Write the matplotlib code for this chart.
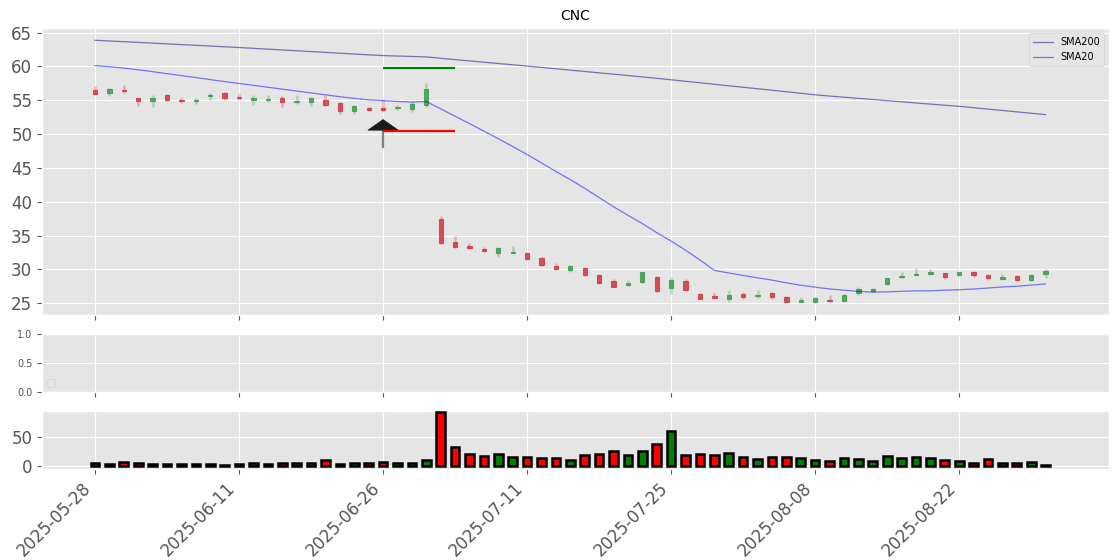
import numpy as np
import pandas as pd
import matplotlib
matplotlib.use("Agg")
import matplotlib.pyplot as plt

ticker = "CNC"
dates = pd.bdate_range("2025-05-28", "2025-09-02", freq="C",
                       holidays=["2025-06-19", "2025-07-04", "2025-09-01"])

opens = [56.53, 56.00, 56.55, 55.26, 54.86, 55.75, 55.10, 54.95, 55.60, 56.14,
         55.55, 55.00, 55.10, 55.26, 54.75, 54.67, 55.10, 54.60, 53.34, 53.87,
         53.87, 53.87, 53.78, 54.37, 37.44, 34.09, 33.50, 33.06, 32.38, 32.43,
         32.38, 31.64, 30.55, 29.87, 30.25, 29.22, 28.25, 27.70, 28.14, 28.84,
         27.30, 28.34, 26.42, 26.12, 25.60, 26.35, 26.08, 26.47, 25.89, 25.24,
         25.24, 25.53, 25.38, 26.57, 26.86, 27.80, 28.88, 29.18, 29.32, 29.43,
         29.18, 29.58, 29.13, 28.59, 29.07, 28.39, 29.28]
highs = [57.07, 56.88, 57.30, 55.40, 55.75, 55.90, 55.40, 55.40, 56.10, 56.20,
         56.00, 55.75, 55.75, 55.60, 55.75, 55.50, 55.75, 54.76, 54.37, 54.00,
         55.20, 54.37, 54.76, 57.56, 37.93, 34.98, 33.95, 33.35, 33.35, 33.50,
         32.60, 31.80, 31.00, 30.65, 30.40, 29.33, 28.59, 28.44, 29.66, 29.03,
         28.93, 28.54, 26.47, 26.57, 26.96, 26.71, 26.90, 26.71, 26.08, 25.89,
         25.97, 26.22, 26.37, 27.36, 27.30, 28.78, 29.66, 30.25, 30.02, 29.52,
         29.66, 29.72, 29.28, 29.33, 29.18, 29.28, 30.02]
lows = [55.75, 55.70, 56.10, 54.17, 54.00, 54.90, 54.60, 54.50, 55.00, 55.00,
        55.10, 54.27, 54.76, 53.93, 54.40, 54.10, 54.20, 52.94, 53.04, 53.34,
        53.30, 53.53, 53.19, 54.00, 33.75, 33.20, 33.00, 32.53, 31.80, 32.38,
        31.40, 30.55, 29.90, 29.58, 29.03, 27.90, 27.36, 27.55, 28.04, 26.70,
        26.37, 26.86, 25.59, 25.63, 25.20, 25.60, 25.80, 25.63, 25.15, 25.15,
        25.09, 25.19, 25.30, 26.22, 26.71, 27.70, 28.78, 29.07, 29.18, 28.54,
        29.07, 28.93, 28.44, 28.48, 28.29, 28.29, 28.69]
closes = [55.89, 56.59, 56.35, 54.86, 55.40, 55.00, 54.86, 55.05, 55.80, 55.40,
          55.30, 55.40, 55.20, 54.67, 54.85, 55.26, 54.37, 53.43, 54.12, 53.49,
          53.49, 54.00, 54.40, 56.63, 33.86, 33.27, 33.10, 32.72, 33.20, 32.57,
          31.49, 30.60, 30.02, 30.55, 29.13, 27.95, 27.45, 28.04, 29.58, 26.80,
          28.44, 26.96, 25.63, 25.83, 26.18, 25.88, 26.25, 25.89, 25.24, 25.45,
          25.74, 25.30, 26.22, 27.15, 27.10, 28.69, 29.07, 29.37, 29.58, 28.84,
          29.58, 29.13, 28.69, 28.93, 28.39, 29.13, 29.77]
volume = [5.2, 3.4, 6.9, 5.2, 3.4, 3.4, 3.4, 3.4, 3.4, 1.8,
          3.4, 5.2, 3.4, 5.2, 5.2, 5.2, 10.3, 3.4, 5.2, 5.2,
          6.9, 5.2, 5.2, 10.3, 93.0, 32.5, 22.0, 17.0, 22.0, 15.3,
          15.3, 13.6, 13.6, 11.7, 18.8, 21.7, 26.9, 18.8, 25.7, 39.0,
          61.4, 20.0, 21.7, 18.8, 23.4, 16.6, 13.1, 16.6, 16.6, 14.8,
          11.4, 9.7, 14.8, 13.1, 9.7, 18.3, 14.8, 16.6, 14.8, 11.4,
          9.7, 6.2, 13.1, 6.2, 6.2, 7.9, 2.5]
sma200 = [63.86, 63.76, 63.65, 63.55, 63.44, 63.33, 63.22, 63.12, 63.01, 62.90,
          62.79, 62.67, 62.55, 62.43, 62.31, 62.19, 62.07, 61.95, 61.83, 61.71,
          61.60, 61.53, 61.47, 61.40, 61.20, 61.00, 60.81, 60.62, 60.43, 60.24,
          60.05, 59.85, 59.65, 59.45, 59.25, 59.05, 58.85, 58.65, 58.45, 58.24,
          58.02, 57.80, 57.58, 57.36, 57.14, 56.92, 56.70, 56.48, 56.26, 56.03,
          55.80, 55.62, 55.45, 55.28, 55.11, 54.94, 54.77, 54.60, 54.43, 54.26,
          54.10, 53.90, 53.69, 53.49, 53.28, 53.08, 52.87]
sma20 = [60.12, 59.95, 59.75, 59.50, 59.22, 58.93, 58.64, 58.35, 58.05, 57.76,
         57.48, 57.20, 56.92, 56.64, 56.36, 56.08, 55.80, 55.52, 55.28, 55.06,
         54.94, 54.82, 54.72, 54.81, 53.73, 52.64, 51.55, 50.44, 49.31, 48.17,
         46.98, 45.74, 44.48, 43.27, 41.99, 40.62, 39.27, 38.00, 36.78, 35.44,
         34.19, 32.84, 31.40, 29.86, 29.48, 29.11, 28.76, 28.42, 28.02, 27.67,
         27.38, 27.12, 26.93, 26.76, 26.65, 26.69, 26.77, 26.84, 26.84, 26.94,
         27.00, 27.11, 27.26, 27.41, 27.52, 27.69, 27.86]

signal_idx = 20
arrow_tip = 52.2
arrow_head_base = 50.55
arrow_tail = 47.97
take_profit = 59.73
stop_loss = 50.40
level_end_idx = 25
tick_step = 10

plt.style.use("ggplot")
fig = plt.figure(figsize=(11.2, 5.6), dpi=100)
W, H = 1120.0, 560.0
left, right = 42 / W, 1109 / W
ax1 = fig.add_axes([left, 1 - 315 / H, right - left, (315 - 28.3) / H])
ax2 = fig.add_axes([left, 1 - 391.5 / H, right - left, (391.5 - 334) / H], sharex=ax1)
ax3 = fig.add_axes([left, 1 - 469 / H, right - left, (469 - 411) / H], sharex=ax1)

x = np.arange(len(closes))
o = np.array(opens); c = np.array(closes)
h = np.array(highs); l = np.array(lows)
up = c >= o
cols = np.where(up, "#3a9a48", "#d0343c")

# candles
ax1.vlines(x, l, h, colors=cols, linewidth=1.8, alpha=0.3, zorder=2)
ax1.bar(x, np.abs(c - o), bottom=np.minimum(o, c), width=0.3, color=cols,
        edgecolor=cols, linewidth=0.8, alpha=0.8, zorder=3)

ax1.plot(x, sma200, color="navy", alpha=0.5, linewidth=0.9, label="SMA200", zorder=4)
ax1.plot(x, sma20, color="blue", alpha=0.5, linewidth=0.9, label="SMA20", zorder=4)

# buy signal arrow: gray shaft + dark head
ax1.vlines(signal_idx, arrow_tail, arrow_head_base, colors="gray", linewidth=1.6, zorder=5)
ax1.annotate("", xy=(signal_idx, arrow_tip), xytext=(signal_idx, arrow_head_base),
             arrowprops=dict(arrowstyle="-|>,head_width=1.08,head_length=0.75",
                             mutation_scale=10, fc="#1a1a1a", ec="#1a1a1a", lw=0.6,
                             shrinkA=0, shrinkB=0), zorder=5)
ax1.hlines(take_profit, signal_idx, level_end_idx, colors="green", linewidth=1.6, zorder=6)
ax1.hlines(stop_loss, signal_idx, level_end_idx, colors="red", linewidth=1.6, zorder=6)

ax1.set_title(ticker, fontsize=10)
ax1.set_ylim(23.27, 65.63)
ax1.set_xlim(-3.68, 70.4)
ax1.set_yticks(np.arange(25, 66, 5))
ax1.tick_params(axis="y", labelsize=12)
ax1.legend(loc="upper right", fontsize=7)

ax2.set_ylim(0, 1)
ax2.set_yticks([0.0, 0.5, 1.0])
ax2.tick_params(axis="y", labelsize=7)
ax2.legend(handles=[], loc="lower left", fontsize=7)

vcols = np.where(up, "green", "red")
ax3.bar(x, volume, width=0.6, color=vcols, edgecolor="black", linewidth=1.8, zorder=3)
ax3.set_ylim(-4.6, 95.3)
ax3.set_yticks([0, 50])
ax3.tick_params(axis="y", labelsize=12)

ticks = x[::tick_step]
ax3.set_xticks(ticks)
ax3.set_xticklabels([dates[i].strftime("%Y-%m-%d") for i in ticks],
                    rotation=45, ha="right", fontsize=12)
for ax in (ax1, ax2):
    plt.setp(ax.get_xticklabels(), visible=False)

fig.savefig("out.png", dpi=100)
